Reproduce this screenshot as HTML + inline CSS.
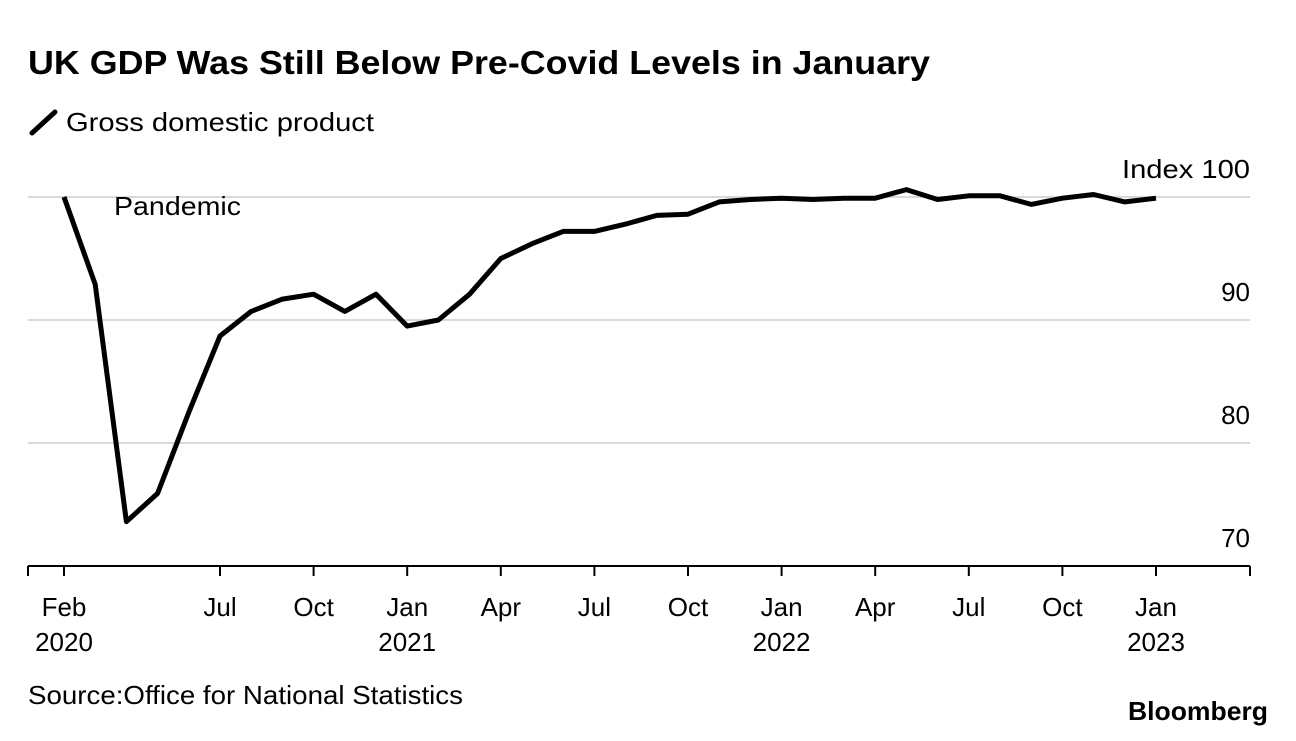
<!DOCTYPE html>
<html><head><meta charset="utf-8"><style>
body{margin:0;background:#fff;width:1296px;height:736px;overflow:hidden;font-family:"Liberation Sans",Arial,sans-serif;}
svg text{font-family:"Liberation Sans",Arial,sans-serif;}
</style></head><body>
<svg id="chart" width="1296" height="736" viewBox="0 0 1296 736">
<text x="28" y="74" font-size="33" font-weight="bold" fill="#000" textLength="902" lengthAdjust="spacingAndGlyphs">UK GDP Was Still Below Pre-Covid Levels in January</text>
<g>
<line x1="32" y1="133" x2="55" y2="112" stroke="#000" stroke-width="5" stroke-linecap="round"/>
<text x="66" y="131" font-size="26" fill="#000" textLength="308" lengthAdjust="spacingAndGlyphs">Gross domestic product</text>
</g>
<g id="grid"></g>
<g id="xaxis"></g>
<g id="yaxis"></g>
<text x="114" y="215" font-size="26" fill="#000" textLength="127" lengthAdjust="spacingAndGlyphs">Pandemic</text>
<path id="line" fill="none" stroke="#000" stroke-width="5" stroke-linejoin="round"/>
<text x="28" y="704" font-size="26" fill="#000" textLength="435" lengthAdjust="spacingAndGlyphs">Source:Office for National Statistics</text>
<text x="1128" y="720" font-size="26" font-weight="bold" fill="#000" textLength="140" lengthAdjust="spacingAndGlyphs">Bloomberg</text>
</svg>
<script>
const values=[100,92.9,73.6,75.9,82.5,88.7,90.7,91.7,92.1,90.7,92.1,89.5,90.0,92.1,95.0,96.2,97.2,97.2,97.8,98.5,98.6,99.6,99.8,99.9,99.8,99.9,99.9,100.6,99.8,100.1,100.1,99.4,99.9,100.2,99.6,99.9];
const yTicks=[70,80,90,100];
const xTickMonths=[0,5,8,11,14,17,20,23,26,29,32,35];
const xTickLabels=["Feb","Jul","Oct","Jan","Apr","Jul","Oct","Jan","Apr","Jul","Oct","Jan"];
const yearLabels=[[0,"2020"],[11,"2021"],[23,"2022"],[35,"2023"]];
const NS="http://www.w3.org/2000/svg";
const x=i=>64+i*(1156-64)/35;
const y=v=>197+(100-v)*12.3;
function mk(tag,attrs,parent,txt){const e=document.createElementNS(NS,tag);for(const k in attrs)e.setAttribute(k,attrs[k]);if(txt!==undefined)e.textContent=txt;parent.appendChild(e);return e;}
const grid=document.getElementById('grid'),xa=document.getElementById('xaxis'),ya=document.getElementById('yaxis');
yTicks.forEach(t=>{
 if(t>70){const l=mk('line',{x1:28,x2:1250,y1:y(t),y2:y(t),stroke:'#d9d9d9','stroke-width':2},grid);
 
 }
 const attrs={x:1250,y:y(t)-19,'font-size':26,'text-anchor':'end',fill:'#000'};
 if(t===100){attrs.textLength=128;attrs.lengthAdjust='spacingAndGlyphs';}
 const lb=mk('text',attrs,ya,t===100?'Index 100':String(t));
 
 
});
mk('line',{x1:28,x2:1250,y1:y(70),y2:y(70),stroke:'#000','stroke-width':2},xa);
[28,1250].forEach(px=>mk('line',{x1:px,x2:px,y1:y(70),y2:y(70)+10,stroke:'#000','stroke-width':2},xa));
xTickMonths.forEach((m,i)=>{
 mk('line',{x1:x(m),x2:x(m),y1:y(70),y2:y(70)+10,stroke:'#000','stroke-width':2},xa);
 const lb=mk('text',{x:x(m),y:616,'font-size':26,'text-anchor':'middle',fill:'#000'},xa,xTickLabels[i]);
 
 
});
yearLabels.forEach(([m,t])=>{
 const lb=mk('text',{x:x(m),y:651,'font-size':26,'text-anchor':'middle',fill:'#000'},xa,t);
 
 
});
document.getElementById('line').setAttribute('d',values.map((v,i)=>(i?'L':'M')+x(i).toFixed(1)+','+y(v).toFixed(1)).join(''));
</script>
</body></html>
